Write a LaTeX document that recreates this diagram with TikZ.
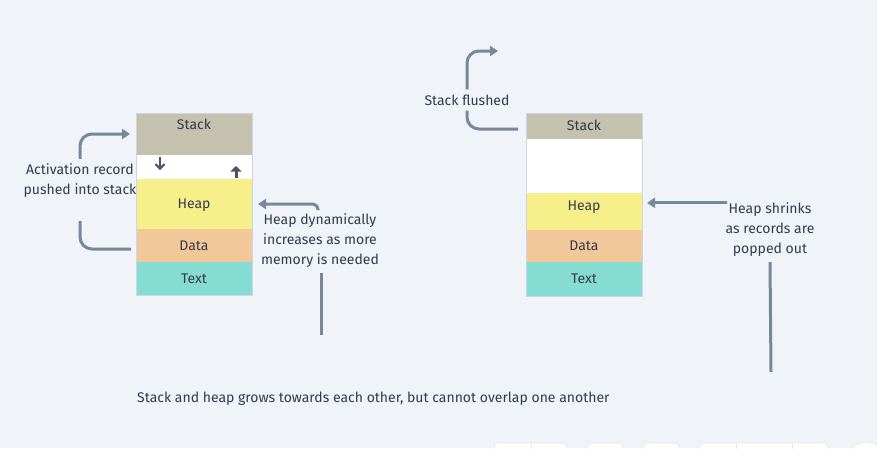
\documentclass[tikz,border=0pt]{standalone}
\usepackage{fontspec}
\setmainfont{Fira Sans}
\usetikzlibrary{positioning,arrows.meta}
\definecolor{bg}{HTML}{F0F3F8}
\definecolor{stackc}{HTML}{C4C1AE}
\definecolor{heapc}{HTML}{F7F08A}
\definecolor{datac}{HTML}{F2C799}
\definecolor{textc}{HTML}{84DCD3}
\definecolor{edge}{HTML}{CDD6E4}
\definecolor{wire}{HTML}{7A869A}
\definecolor{ink}{HTML}{343B4C}
\definecolor{darkink}{HTML}{4A5468}
\tikzset{
 seg/.style={minimum width=116pt, inner sep=0pt, outer sep=0pt, text=ink, text height=9.6pt, text depth=0pt},
 flow/.style={draw=wire, line width=3pt, rounded corners=12pt},
 tip/.style={-{Triangle[length=8pt,width=10pt]}},
 note/.style={align=center, text=ink, inner sep=0pt},
 tool/.style={fill=white, draw=edge!60, line width=0.6pt, rounded corners=4pt},
}

\begin{document}
\begin{tikzpicture}[x=1pt,y=-1pt,font=\fontsize{14}{20}\selectfont]
 \fill[bg] (0,0) rectangle (877,448);
 \useasboundingbox (0,0) rectangle (877,448);

 \node[seg, fill=stackc, minimum height=42pt, text depth=18pt, anchor=north west] (stackL) at (136,113) {Stack};
 \node[seg, fill=white, minimum height=24pt, below=0pt of stackL] (gapL) {};
 \node[seg, fill=heapc, minimum height=50pt, below=0pt of gapL] (heapL) {Heap};
 \node[seg, fill=datac, minimum height=33pt, below=0pt of heapL] (dataL) {Data};
 \node[seg, fill=textc, minimum height=33pt, below=0pt of dataL] (textL) {Text};
 \draw[edge, line width=1pt] (stackL.north west) rectangle (textL.south east);

 \draw[darkink, line width=2pt, -{Straight Barb[length=4.5pt,width=9pt]}] ([xshift=24pt,yshift=-2pt]gapL.north west) -- ++(0,13);
 \draw[darkink, line width=3pt, -{Triangle[length=5.5pt,width=11pt]}] ([xshift=-16pt,yshift=1pt]gapL.south east) -- ++(0,-12);

 \node[seg, fill=stackc, minimum height=26pt, anchor=north west] (stackR) at (526,113) {Stack};
 \node[seg, fill=white, minimum height=54pt, below=0pt of stackR] (gapR) {};
 \node[seg, fill=heapc, minimum height=37pt, text depth=11pt, below=0pt of gapR] (heapR) {Heap};
 \node[seg, fill=datac, minimum height=32pt, below=0pt of heapR] (dataR) {Data};
 \node[seg, fill=textc, minimum height=34pt, below=0pt of dataR] (textR) {Text};
 \draw[edge, line width=1pt] (stackR.north west) rectangle (textR.south east);

 \node[note] (act) at (80,181) {Activation record\\pushed into stack};
 \node[note] (heapnote) at (320,241) {Heap dynamically\\increases as more\\memory is needed};
 \node[note] (flush) at (467,100) {Stack flushed};
 \node[note] (shrink) at (770,230) {Heap shrinks\\as records are\\popped out};
 \node[note, anchor=west] (caption) at (137,399) {Stack and heap grows towards each other, but cannot overlap one another};

 \coordinate (heapend) at (321,335);
 \coordinate (flushtip) at (498,51);
 \coordinate (shrinkend) at (771,372);

 \draw[flow, tip, shorten >=6pt] ([yshift=5pt]act.north) |- (stackL.west);
 \draw[flow, shorten >=5pt] ([yshift=-23pt]act.south) |- ([yshift=-3.5pt]dataL.west);
 \draw[flow, tip, rounded corners=6pt, shorten >=6pt] ([xshift=-2pt,yshift=5pt]heapnote.north) |- (heapL.east);
 \draw[flow] ([xshift=1pt,yshift=-5pt]heapnote.south) -- (heapend);
 \draw[flow, tip] ([yshift=5pt]flush.north) |- (flushtip);
 \draw[flow, shorten >=8pt] ([yshift=-5pt]flush.south) |- ([yshift=-3pt]stackR.west);
 \draw[flow, tip, shorten >=5pt, shorten <=-2pt] (shrink.north west) -- (shrink.north west -| heapR.east);
 \draw[flow] ([yshift=-5pt]shrink.south) -- (shrinkend);

 \foreach \a/\b in {494/567, 587/623, 643/679, 699/828}
  \draw[tool] (\a,443) rectangle (\b,462);
 \foreach \x in {531,736,792}
  \draw[edge!60, line width=0.6pt] (\x,443) -- (\x,462);
 \draw[tool] (866,462) circle (20pt);
\end{tikzpicture}
\end{document}
